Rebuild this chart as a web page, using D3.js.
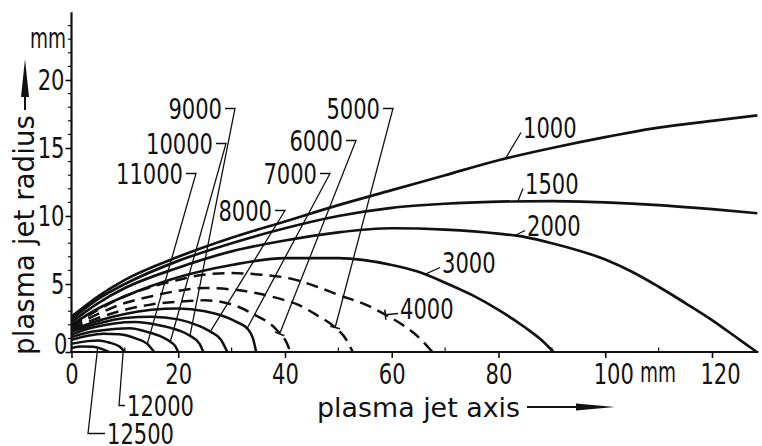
<!DOCTYPE html>
<html>
<head>
<meta charset="utf-8">
<script src="https://cdn.jsdelivr.net/npm/d3@7/dist/d3.min.js"></script>
<style>
body { margin: 0; background: #fff; }
text { font-family: "DejaVu Sans Condensed", "DejaVu Sans", sans-serif; fill: #111; }
</style>
</head>
<body>
<svg id="chart" width="762" height="446"></svg>
<script>
var w = 762, h = 446;

// isotherm temperatures (K); the three middle ones are drawn dashed
var temps = [1000, 1500, 2000, 3000, 4000, 5000, 6000, 7000, 8000, 9000, 10000, 11000, 12000, 12500];
var dashedTemps = [4000, 5000, 6000];

// [axial position mm, radius mm]
var iso1000 = [[0,2.6],[5,4.1],[10,5.3],[20,7.0],[30,8.4],[40,9.6],[50,10.8],[60,11.9],[70,13.0],[80,14.1],[90,15.0],[100,15.8],[110,16.5],[120,17.0],[128.5,17.4]];
var iso1500 = [[0,2.4],[5,3.9],[10,5.0],[20,6.7],[30,8.0],[40,9.1],[50,10.0],[60,10.6],[70,10.9],[80,11.05],[90,11.1],[100,11.0],[110,10.8],[120,10.5],[128.5,10.2]];
var iso2000 = [[0,2.2],[5,3.6],[10,4.7],[20,6.2],[30,7.4],[40,8.2],[50,8.8],[60,9.1],[70,9.0],[80,8.7],[85,8.45],[90,8.0],[100,6.8],[105,5.9],[110,4.8],[115,3.6],[120,2.35],[125,0.95],[128.4,0]];
var iso3000 = [[0,2.0],[5,3.2],[10,4.1],[20,5.5],[30,6.4],[40,6.9],[50,6.9],[60,6.4],[65,5.9],[70,5.1],[75,4.2],[80,3.1],[85,1.8],[88,0.9],[90.3,0]];
var iso4000 = [[0,1.9],[5,3.1],[10,4.1],[15,4.8],[20,5.3],[25,5.7],[30,5.8],[35,5.7],[41,5.4],[46,4.8],[50,4.2],[55,3.5],[59,2.7],[62,2.0],[65,1.1],[67.6,0]];
var iso5000 = [[0,1.8],[5,2.8],[10,3.6],[15,4.1],[20,4.5],[25,4.7],[30,4.6],[35,4.3],[40,3.8],[42.3,3.5],[46,2.7],[49.4,1.8],[51.5,0.9],[52.7,0]];
var iso6000 = [[0,1.7],[5,2.5],[10,3.1],[15,3.5],[20,3.7],[25,3.8],[30,3.5],[34,2.8],[38.5,1.6],[40.4,0.6],[41,0]];
var iso7000 = [[0,1.6],[5,2.3],[10,2.8],[15,3.1],[20,3.2],[25,3.0],[28,2.7],[31,2.2],[33,1.7],[34,1.0],[34.6,0]];
var iso8000 = [[0,1.5],[5,2.1],[10,2.5],[15,2.6],[20,2.4],[24,1.9],[26,1.5],[28,0.9],[29.2,0]];
var iso9000 = [[0,1.3],[4,1.8],[8,2.1],[12,2.2],[16,2.0],[20,1.6],[22.2,1.2],[24,0.6],[24.7,0]];
var iso10000 = [[0,1.1],[4,1.5],[8,1.7],[11,1.75],[14,1.5],[17,1.1],[18.5,0.75],[19.5,0.4],[20,0]];
var iso11000 = [[0,0.9],[3,1.2],[6,1.35],[9,1.3],[12,1.0],[14.2,0.6],[15.5,0]];
var iso12000 = [[0,0.6],[3,0.8],[5,0.85],[7,0.7],[9,0.4],[10,0]];
var iso12500 = [[0,0.3],[2,0.4],[4,0.38],[5.5,0.25],[7,0]];
var isoPoints = [iso1000, iso1500, iso2000, iso3000, iso4000, iso5000, iso6000, iso7000, iso8000, iso9000, iso10000, iso11000, iso12000, iso12500];

// axial position (mm) where each label's leader touches its isotherm
var leaderAt = [81.3, 83.6, 83, 66.2, 58.8, 49.4, 39, 32.9, 26, 22.2, 18.5, 14.2, 9.7, 4.9];

var xTicks = [0, 20, 40, 60, 80, 100, 120];
var yTicks = [0, 5, 10, 15, 20];
var xMax = 128.5, yMax = 24.9;   // where the axis lines stop

// label placement in pixels: x, baseline y, kind of leader
var labelLayout = {
	1000:  { x: 523, y: 138, kind: 'right' },
	1500:  { x: 525, y: 194, kind: 'right' },
	2000:  { x: 527, y: 236, kind: 'right' },
	3000:  { x: 442, y: 273, kind: 'right' },
	4000:  { x: 400, y: 319, kind: 'right' },
	5000:  { x: 380, y: 119, kind: 'hook' },
	6000:  { x: 343, y: 151, kind: 'hook' },
	7000:  { x: 317, y: 184, kind: 'hook' },
	8000:  { x: 272, y: 221, kind: 'hook' },
	9000:  { x: 222, y: 119, kind: 'hook' },
	10000: { x: 213, y: 154, kind: 'hook' },
	11000: { x: 183, y: 184, kind: 'hook' },
	12000: { x: 127, y: 416, kind: 'below', corner: 8 },
	12500: { x: 107, y: 444, kind: 'below', corner: 19 }
};

var xScale = d3.scaleLinear().domain([0, 120]).range([71.5, 712]);
var yScale = d3.scaleLinear().domain([0, 20]).range([352, 80]);

var svg = d3.select('#chart');

// the lettering of the original is narrow; squeeze each glyph to about 13.4px
function narrow(sel, perChar) {
	sel.attr('lengthAdjust', 'spacingAndGlyphs')
		.attr('textLength', function() { return this.textContent.length * (perChar || 13.4); });
}

function rAt(pts, x) {
	var i = d3.bisector(function(d) { return d[0]; }).right(pts, x);
	i = Math.max(1, Math.min(pts.length - 1, i));
	var a = pts[i - 1], b = pts[i];
	return a[1] + (b[1] - a[1]) * (x - a[0]) / (b[0] - a[0]);
}

var isotherms = temps.map(function(t, i) {
	return { t: t, pts: isoPoints[i], dashed: dashedTemps.indexOf(t) >= 0, at: leaderAt[i] };
});

// --- axes ---
var axes = svg.append('g').attr('stroke', '#111').attr('stroke-linecap', 'square');
axes.append('line')
	.attr('x1', xScale(0)).attr('x2', xScale(xMax))
	.attr('y1', yScale(0)).attr('y2', yScale(0))
	.attr('stroke-width', 2.2);
axes.append('line')
	.attr('x1', xScale(0)).attr('x2', xScale(0))
	.attr('y1', yScale(0)).attr('y2', yScale(yMax))
	.attr('stroke-width', 2.2);

// minor ticks
axes.selectAll('.ym').data(d3.range(1, 25).filter(function(d) { return d % 5; }))
	.enter().append('line')
	.attr('x1', xScale(0) - 3).attr('x2', xScale(0))
	.attr('y1', function(d) { return yScale(d); }).attr('y2', function(d) { return yScale(d); })
	.attr('stroke-width', 1.2);
axes.selectAll('.xm').data([10, 30, 50, 70, 90, 110])
	.enter().append('line')
	.attr('x1', function(d) { return xScale(d); }).attr('x2', function(d) { return xScale(d); })
	.attr('y1', yScale(0) - 4).attr('y2', yScale(0))
	.attr('stroke-width', 1.2);

var xAxis = svg.append('g')
	.attr('transform', 'translate(0,' + yScale(0) + ')')
	.call(d3.axisBottom(xScale).tickValues(xTicks).tickSize(6).tickPadding(5).tickFormat(d3.format('d')));
var yAxis = svg.append('g')
	.attr('transform', 'translate(' + xScale(0) + ',0)')
	.call(d3.axisLeft(yScale).tickValues(yTicks).tickSize(6).tickPadding(1).tickFormat(d3.format('d')));

[xAxis, yAxis].forEach(function(g) {
	g.select('.domain').remove();
	g.selectAll('.tick line').attr('stroke', '#111').attr('stroke-width', 1.6);
	g.selectAll('.tick text').attr('fill', '#111').style('font-size', '29px').call(narrow);
});
xAxis.selectAll('.tick text').filter(function(d) { return d >= 100; }).attr('x', 8);
yAxis.selectAll('.tick text').filter(function(d) { return d === 0; }).attr('dy', '0.05em').attr('x', -4);

// unit labels
svg.append('text').attr('x', 640).attr('y', 382).style('font-size', '29px')
	.attr('textLength', 36).attr('lengthAdjust', 'spacingAndGlyphs').text('mm');
svg.append('text').attr('x', 30).attr('y', 48).style('font-size', '29px')
	.attr('textLength', 36).attr('lengthAdjust', 'spacingAndGlyphs').text('mm');

// axis titles with arrows
svg.append('text')
	.attr('x', 317).attr('y', 417)
	.attr('textLength', 203).attr('lengthAdjust', 'spacingAndGlyphs')
	.style('font-size', '27px')
	.text('plasma jet axis');
svg.append('line').attr('x1', 527).attr('x2', 590).attr('y1', 407).attr('y2', 407)
	.attr('stroke', '#111').attr('stroke-width', 2);
svg.append('path').attr('d', 'M576,403.5L615,407L576,410.5Z').attr('fill', '#111');

svg.append('text')
	.attr('transform', 'translate(34,355) rotate(-90)')
	.attr('textLength', 240).attr('lengthAdjust', 'spacingAndGlyphs')
	.style('font-size', '29px')
	.text('plasma jet radius');
svg.append('line').attr('x1', 25).attr('x2', 25).attr('y1', 110).attr('y2', 85)
	.attr('stroke', '#111').attr('stroke-width', 2);
svg.append('path').attr('d', 'M21,97L25,59L29,97Z').attr('fill', '#111');

// --- isotherms ---
var lineFunction = d3.line()
	.curve(d3.curveMonotoneX)
	.x(function(d) { return xScale(d[0]); })
	.y(function(d) { return yScale(d[1]); });

svg.append('g').selectAll('path')
	.data(isotherms)
	.enter().append('path')
	.attr('fill', 'none')
	.attr('stroke', '#111')
	.attr('stroke-width', function(d) { return d.t <= 3000 ? 2.7 : 2.5; })
	.attr('stroke-dasharray', function(d) { return d.dashed ? '12,7' : null; })
	.attr('d', function(d) { return lineFunction(d.pts); });

// --- labels and leaders ---
var lab = svg.append('g');
isotherms.forEach(function(d) {
	var L = labelLayout[d.t];
	var tx = xScale(d.at), ty = yScale(rAt(d.pts, d.at));
	var mid = L.y - 10.5;
	var pts;
	var txt = lab.append('text').attr('x', L.x).attr('y', L.y).style('font-size', '29px').text(d.t).call(narrow);
	if (L.kind === 'hook') {
		txt.attr('text-anchor', 'end');
		pts = [[L.x + 3, mid], [L.x + 13, mid], [tx, ty]];
	} else if (L.kind === 'right') {
		pts = [[L.x - 2, mid + 5], [tx, ty]];
	} else {
		pts = [[tx, ty], [L.x - L.corner, mid], [L.x - 2, mid]];
	}
	lab.append('path')
		.attr('d', d3.line()(pts))
		.attr('fill', 'none').attr('stroke', '#111').attr('stroke-width', 1.3);
	if (d.dashed) {
		// small cross tick where the leader meets a dashed isotherm
		var p = pts[pts.length - 2], dx = tx - p[0], dy = ty - p[1], len = Math.hypot(dx, dy);
		var nx = -dy / len * 5, ny = dx / len * 5;
		lab.append('line')
			.attr('x1', tx - nx).attr('y1', ty - ny).attr('x2', tx + nx).attr('y2', ty + ny)
			.attr('stroke', '#111').attr('stroke-width', 1.6);
	}
});
</script>
</body>
</html>
